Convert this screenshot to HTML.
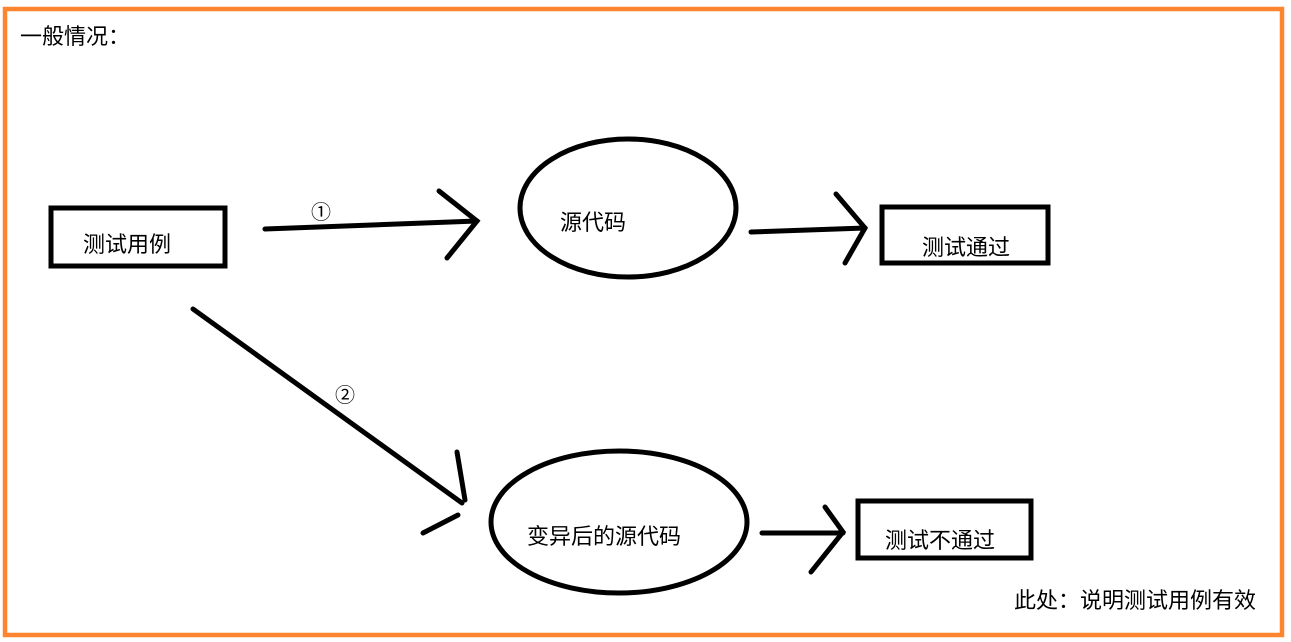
<!DOCTYPE html>
<html><head><meta charset="utf-8"><style>
html,body{margin:0;padding:0;background:#fff;}
svg{display:block;}
text{font-family:"Liberation Sans","Noto Sans CJK SC","WenQuanYi Zen Hei",sans-serif;fill:#000;}
</style></head><body>
<svg width="1291" height="642" viewBox="0 0 1291 642" xmlns="http://www.w3.org/2000/svg">
<rect x="0" y="0" width="1291" height="642" fill="#fff"/>
<rect x="5" y="9" width="1277" height="626" fill="none" stroke="#fd8530" stroke-width="4.5"/>
<text x="20" y="44" font-size="22">一般情况：</text>
<g stroke="#000" stroke-width="5" fill="none" stroke-linecap="round">
<rect x="51" y="208" width="174" height="58" stroke-linecap="butt"/>
<line x1="265" y1="229" x2="477" y2="221"/>
<polyline points="439,191 477,221 447,258"/>
<ellipse cx="628" cy="208" rx="108" ry="69"/>
<line x1="751" y1="232" x2="865" y2="228"/>
<polyline points="836,194 865,228 845,263"/>
<rect x="882" y="207" width="166" height="56" stroke-linecap="butt"/>
<line x1="193" y1="309" x2="462" y2="503"/>
<line x1="457" y1="452" x2="465" y2="500"/>
<line x1="423" y1="533" x2="458" y2="515"/>
<ellipse cx="619" cy="522" rx="128" ry="71"/>
<line x1="762" y1="533" x2="843" y2="533"/>
<polyline points="825,507 843,532 811,572"/>
<rect x="858" y="501" width="173" height="57" stroke-linecap="butt"/>
</g>
<text x="83" y="252" font-size="22">测试用例</text>
<text x="311" y="219" font-size="20">①</text>
<text x="335" y="402" font-size="20">②</text>
<text x="560" y="230" font-size="22">源代码</text>
<text x="922" y="255" font-size="22">测试通过</text>
<text x="527" y="544" font-size="22">变异后的源代码</text>
<text x="885" y="548" font-size="22">测试不通过</text>
<text x="1014" y="608" font-size="22">此处：说明测试用例有效</text>
</svg>
</body></html>
